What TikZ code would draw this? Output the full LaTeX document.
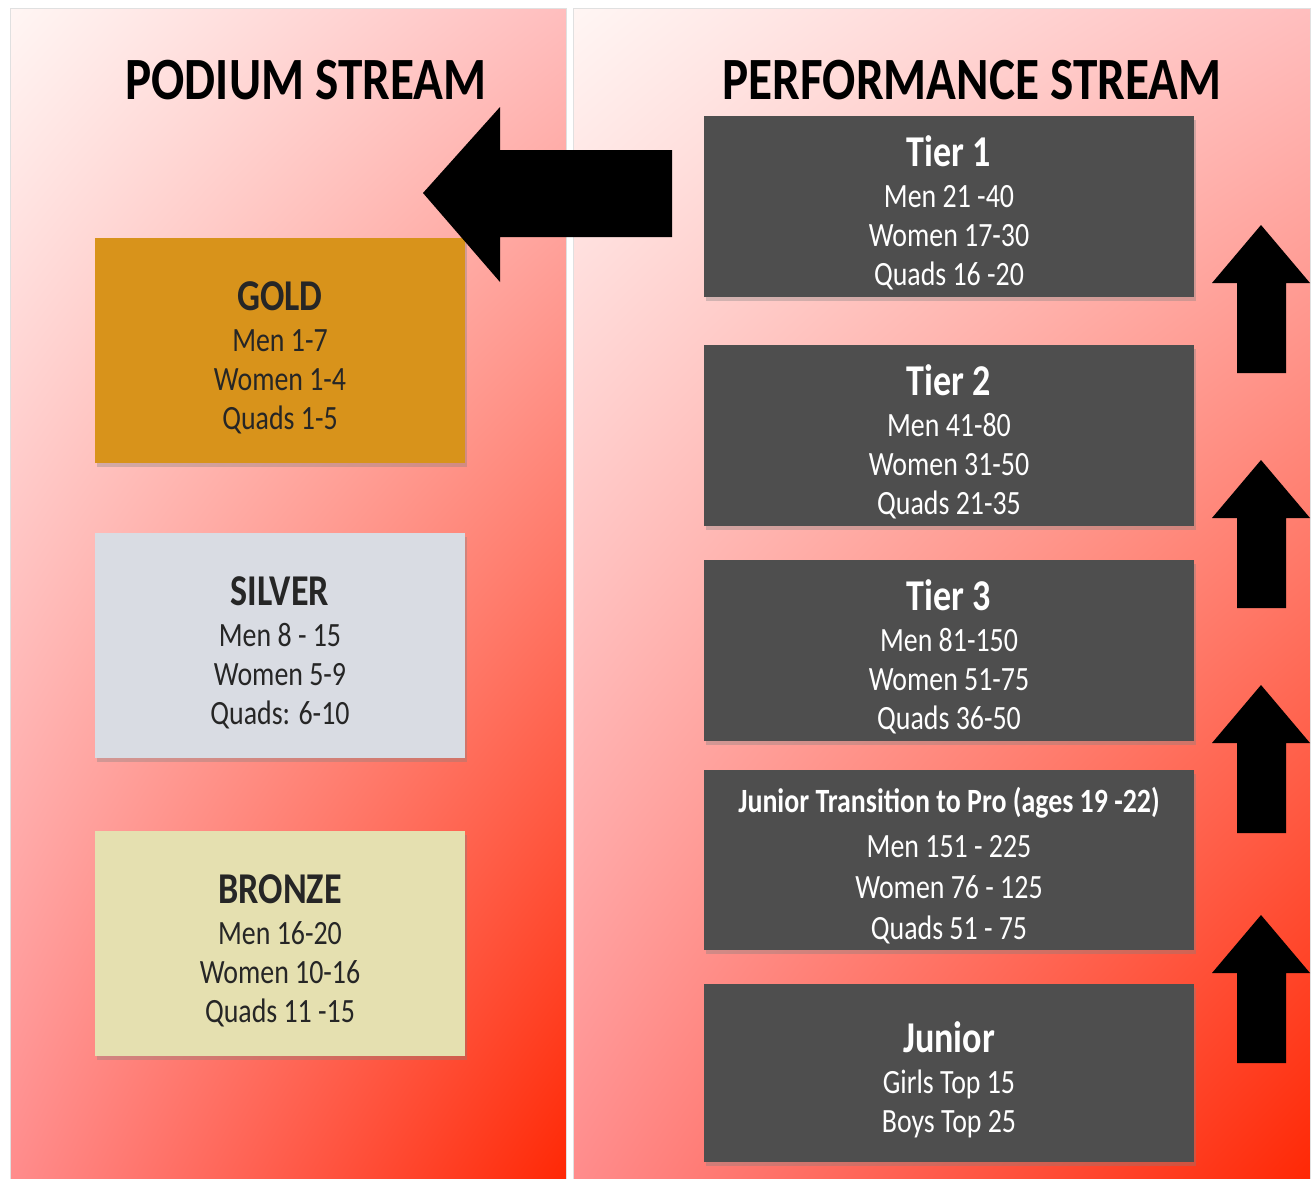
\documentclass[tikz,border=0pt]{standalone}
\usepackage{fontspec}
\setmainfont{Carlito}[FakeStretch=0.82]
\usepackage{xcolor}
\usetikzlibrary{shadows,shadings,positioning}
\definecolor{goldbox}{RGB}{216,147,27}
\definecolor{silverbox}{RGB}{217,220,227}
\definecolor{bronzebox}{RGB}{229,224,176}
\definecolor{tiergray}{RGB}{78,78,78}
\definecolor{paleback}{RGB}{255,246,244}
\definecolor{pinkback}{RGB}{255,190,190}
\definecolor{roseback}{RGB}{255,140,140}
\definecolor{redback}{RGB}{255,40,5}
\newcommand{\boxhead}[1]{\rule{0pt}{22pt}{\fontsize{22}{24}\selectfont\bfseries #1}}

\begin{document}
\begin{tikzpicture}[
    x=0.5pt, y=-0.5pt,
    panel/.style={draw=black!12, line width=0.5pt, upper left=paleback, upper right=pinkback, lower left=roseback, lower right=redback},
    header/.style={font=\fontsize{30}{32}\selectfont\bfseries, text=black},
    medal/.style={rectangle, minimum width=185pt, minimum height=112.5pt, align=center, text=black!85,
        font=\fontsize{17}{19.5}\selectfont, drop shadow={shadow xshift=1pt, shadow yshift=-2pt, opacity=0.35}},
    tier/.style={rectangle, fill=tiergray, text=white, minimum width=245pt, minimum height=89.5pt, align=center,
        font=\fontsize{17}{19.5}\selectfont, drop shadow={shadow xshift=1pt, shadow yshift=-2pt, opacity=0.35}}
]
    \useasboundingbox (0,0) rectangle (1313,1179);
    \fill[white] (0,0) rectangle (1313,1179);

    % Panels
    \shade[panel] (10,8) rectangle (566,1179);
    \shade[panel] (573,8) rectangle (1310,1179);

    % Headers
    \node[header] (podiumhead) at (306,80) {PODIUM STREAM};
    \node[header] (perfhead) at (972,80) {PERFORMANCE STREAM};

    % Podium stream
    \node[medal, fill=goldbox] (gold) at (280,350.5)
        {\boxhead{GOLD}\\[1pt] Men 1-7\\ Women 1-4\\ Quads 1-5};
    \node[medal, fill=silverbox] (silver) at (280,645)
        {\boxhead{SILVER}\\[1pt] Men 8 - 15\\ Women 5-9\\ Quads: 6-10};
    \node[medal, fill=bronzebox] (bronze) at (280,943.5)
        {\boxhead{BRONZE}\\[1pt] Men 16-20\\ Women 10-16\\ Quads 11 -15};

    % Performance stream
    \node[tier] (tier1) at (949,206.5)
        {\boxhead{Tier 1}\\[1pt] Men 21 -40\\ Women 17-30\\ Quads 16 -20};
    \node[tier] (tier2) at (949,435.5)
        {\boxhead{Tier 2}\\[1pt] Men 41-80\\ Women 31-50\\ Quads 21-35};
    \node[tier] (tier3) at (949,650.5)
        {\boxhead{Tier 3}\\[1pt] Men 81-150\\ Women 51-75\\ Quads 36-50};
    \node[tier] (transition) at (949,860)
        {\rule{0pt}{18pt}{\fontsize{17}{19}\selectfont\bfseries Junior Transition to Pro (ages 19 -22)}\\[3pt] Men 151 - 225\\[1pt] Women 76 - 125\\[1pt] Quads 51 - 75};
    \node[tier, minimum height=89pt] (junior) at (949,1073)
        {\boxhead{Junior}\\[1pt] Girls Top 15\\ Boys Top 25};

    % Arrows
    \fill[black] (423,193) -- (500,107) -- (500,150) -- (672,150) -- (672,237) -- (500,237) -- (500,282) -- cycle;
    \foreach \t in {225,460,685,915}
        \fill[black] (1261,\t) -- (1310,{\t+58}) -- (1286,{\t+58}) -- (1286,{\t+148})
            -- (1237,{\t+148}) -- (1237,{\t+58}) -- (1212,{\t+58}) -- cycle;
\end{tikzpicture}
\end{document}
